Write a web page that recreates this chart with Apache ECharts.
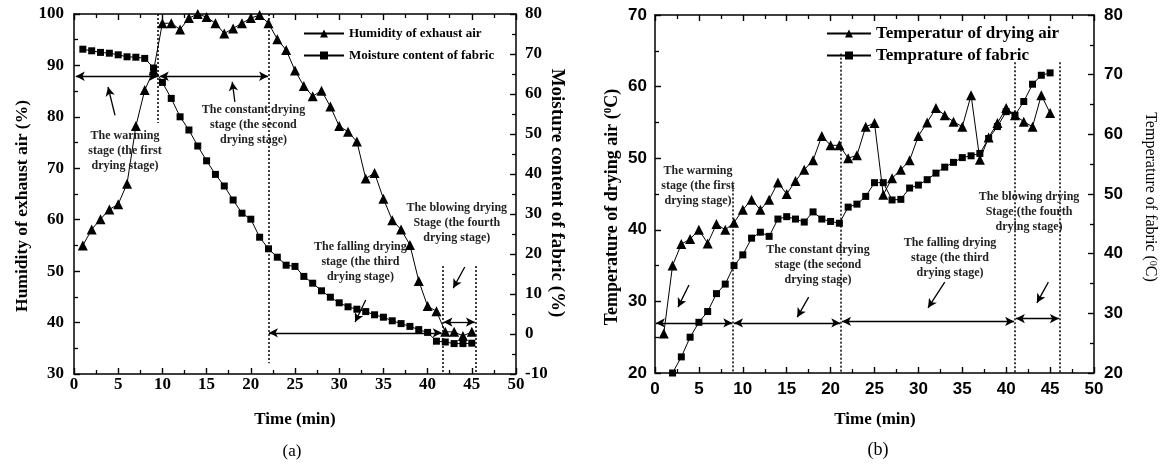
<!DOCTYPE html>
<html><head><meta charset="utf-8">
<script src="https://cdn.jsdelivr.net/npm/echarts@6/dist/echarts.min.js"></script>
<style>html,body{margin:0;padding:0;background:#fff}#c{width:1165px;height:467px}</style>
</head><body><div id="c"></div>
<script>
// ---------- Panel (a) data ----------
const timeA = [1,2,3,4,5,6,7,8,9,10,11,12,13,14,15,16,17,18,19,20,21,22,23,24,25,26,27,28,29,30,31,32,33,34,35,36,37,38,39,40,41,42,43,44,45];
const humidity = [55,58.1,60.1,62,63,67,78.2,85.2,89,98.2,98.2,97,99.2,100,99.4,98.2,96.2,97.2,98.2,99.2,99.8,98.2,95.1,93,89,86,84,85.1,82,78.2,77.1,75.2,68,69.1,64.1,59.9,58.1,55.1,48.1,43.2,42.2,38.2,38.2,37.4,38.2];
const moisture = [71.2,70.8,70.4,70.2,69.8,69.3,69.2,68.9,66.5,62.9,58.9,54.3,51,47,43.3,39.9,37,33.5,30.2,28.7,24.2,21.3,19.2,17.2,16.9,14.4,12.7,10.8,9.2,7.8,6.8,6.2,5.6,4.8,4.2,3.3,2.6,1.9,1.1,0.4,-1.8,-2.0,-2.4,-2.4,-2.3];
// ---------- Panel (b) data ----------
const timeB = [1,2,3,4,5,6,7,8,9,10,11,12,13,14,15,16,17,18,19,20,21,22,23,24,25,26,27,28,29,30,31,32,33,34,35,36,37,38,39,40,41,42,43,44,45];
const airTemp = [25.5,35,38,38.7,40,38.1,40.8,40,41,42.8,44.2,42.8,44.2,46.6,45,46.8,48.4,49.7,53.1,51.8,51.8,50,50.4,54.4,54.9,44.9,47.2,48.4,49.7,53.1,55,57,56,55.1,54.4,58.8,49.8,52.9,54.9,57,56,55.1,54.4,58.8,56.3];
const timeFabric = [2,3,4,5,6,7,8,9,10,11,12,13,14,15,16,17,18,19,20,21,22,23,24,25,26,27,28,29,30,31,32,33,34,35,36,37,38,39,40,41,42,43,44,45];
const fabricTemp = [20,22.7,26,28.5,30.3,33.3,34.9,38,39.8,42.6,43.6,42.9,45.8,46.2,45.8,45.3,47,45.8,45.4,45.1,47.8,48.3,49.6,51.9,51.9,49,49.1,51,51.5,52.4,53.5,54.5,55.3,56.1,56.4,56.8,59.3,61.3,63.8,63.2,65.5,68.4,69.9,70.3];

// ---------- Annotations (data coordinates) ----------
// dotted stage boundaries: [x, yTop, yBottom]
const dottedA = [[9.5,100,78.8],[22,100,32.1],[41.7,51,30],[45.4,51,30]];
const dottedB = [[8.9,46.2,20],[21.2,64.6,20],[41.0,63.4,20],[46.1,63.4,20]];
// double-headed stage arrows: [x1, x2, y]
const spansA = [[0.2,9.5,87.9],[9.7,21.95,87.9],[22.05,41.6,38.0],[41.8,45.35,40.1]];
const spansB = [[0.1,8.8,27.0],[9.0,21.1,27.0],[21.3,40.9,27.2],[41.1,46.0,27.6]];
// pointer arrows: [tailX, tailY, headX, headY]
const pointersA = [[4.64,80.3,3.85,85.8],[18.2,82.9,17.9,86.8],[33.0,44.4,31.8,40.1],[44.2,50.8,42.9,46.7]];
const pointersB = [[3.87,32.3,2.62,29.2],[17.5,30.6,16.2,27.8],[33.0,32.7,31.1,29.1],[44.8,32.7,43.5,29.8]];
// stage labels: [x, y, text]
const labelsA = [
  [5.77,73.3,'The warming\nstage (the first\ndrying stage)'],
  [20.3,78.4,'The constant drying\nstage (the second\ndrying stage)'],
  [32.4,51.75,'The falling drying\nstage (the third\ndrying stage)'],
  [43.3,59.3,'The blowing drying\nStage (the fourth\ndrying stage)']
];
const labelsB = [
  [4.9,46.1,'The warming\nstage (the first\ndrying stage)'],
  [18.56,35.1,'The constant drying\nstage (the second\ndrying stage)'],
  [33.6,36.1,'The falling drying\nstage (the third\ndrying stage)'],
  [42.6,42.5,'The blowing drying\nStage (the fourth\ndrying stage)']
];

const SERIF = "'Liberation Serif','Times New Roman',serif";
const SANS = "'Liberation Sans',Arial,sans-serif";

function pairs(xs, ys){ return xs.map((x,i)=>[x, ys[i]]); }

function axisCommon(labelFont, size, margin, showLabel){
  return {
    axisLine:{show:true, onZero:false, lineStyle:{color:'#000', width:1.5}},
    axisTick:{show:true, inside:true, length:6, lineStyle:{color:'#000', width:1.4}},
    minorTick:{show:true, splitNumber:2, length:4, lineStyle:{color:'#000', width:1.3}},
    axisLabel:{show:showLabel, color:'#000', fontFamily:labelFont, fontWeight:'bold', fontSize:size, margin:margin},
    splitLine:{show:false}, minorSplitLine:{show:false}
  };
}
function xAx(grid, pos, font, size, margin, show){
  return Object.assign({type:'value', gridIndex:grid, position:pos, min:0, max:50, interval:5}, axisCommon(font, size, margin, show));
}
function yAx(grid, pos, min, max, font, size, margin){
  return Object.assign({type:'value', gridIndex:grid, position:pos, min:min, max:max, interval:10}, axisCommon(font, size, margin, true));
}

function markLines(dotted, spans, pointers){
  const data = [];
  dotted.forEach(d=>data.push([
    {coord:[d[0],d[1]], symbol:'none', lineStyle:{type:[2,2], width:1.5, color:'#000'}},
    {coord:[d[0],d[2]], symbol:'none'}
  ]));
  spans.forEach(s=>data.push([
    {coord:[s[0],s[2]], symbol:'arrow'},
    {coord:[s[1],s[2]], symbol:'arrow'}
  ]));
  pointers.forEach(p=>data.push([
    {coord:[p[0],p[1]], symbol:'none'},
    {coord:[p[2],p[3]], symbol:'arrow'}
  ]));
  return {silent:true, animation:false, symbol:['none','none'], symbolSize:[7,9], precision:3,
    label:{show:false}, emphasis:{disabled:true},
    lineStyle:{color:'#000', width:1.3, type:'solid'}, data:data};
}
function markTexts(labels){
  return {silent:true, animation:false, symbol:'rect', symbolSize:1, itemStyle:{color:'rgba(0,0,0,0)'},
    emphasis:{disabled:true},
    label:{show:true, position:'inside', color:'#222', fontFamily:SERIF, fontWeight:'bold', fontSize:12, lineHeight:15, align:'center', verticalAlign:'middle'},
    data: labels.map(l=>({coord:[l[0],l[1]], value:0, label:{formatter:l[2]}}))};
}

const chart = echarts.init(document.getElementById('c'), null, {renderer:'canvas'});
const option = {
  animation:false,
  backgroundColor:'#fff',
  grid:[
    {left:74, top:14, width:442, height:360},
    {left:655, top:15, width:439, height:358}
  ],
  xAxis:[
    xAx(0,'bottom',SERIF,17,2,true),
    xAx(0,'top',SERIF,17,3,false),
    xAx(1,'bottom',SANS,17,8,true),
    xAx(1,'top',SANS,17,3,false)
  ],
  yAxis:[
    yAx(0,'left',30,100,SERIF,17,10),
    yAx(0,'right',-10,80,SERIF,17,9),
    yAx(1,'left',20,70,SANS,17,8),
    yAx(1,'right',20,80,SANS,17,10)
  ],
  legend:[
    {data:['Humidity of exhaust air','Moisture content of fabric'], orient:'vertical', left:303, top:27, padding:0,
     itemWidth:40, itemHeight:10, itemGap:9, selectedMode:false,
     textStyle:{fontFamily:SERIF, fontWeight:'bold', fontSize:13, color:'#000'}},
    {data:['Temperatur of drying air','Temprature of fabric'], orient:'vertical', left:826, top:25, padding:0,
     itemWidth:44, itemHeight:10, itemGap:5, selectedMode:false,
     textStyle:{fontFamily:SERIF, fontWeight:'bold', fontSize:17, color:'#000'}}
  ],
  series:[
    {name:'Humidity of exhaust air', type:'line', xAxisIndex:0, yAxisIndex:0, data:pairs(timeA, humidity),
     symbol:'triangle', symbolSize:10, itemStyle:{color:'#000'}, lineStyle:{color:'#000', width:1}, z:3,
     markLine:markLines(dottedA, spansA, pointersA), markPoint:markTexts(labelsA)},
    {name:'Moisture content of fabric', type:'line', xAxisIndex:0, yAxisIndex:1, data:pairs(timeA, moisture),
     symbol:'rect', symbolSize:7, itemStyle:{color:'#000'}, lineStyle:{color:'#000', width:1}, z:3},
    {name:'Temperatur of drying air', type:'line', xAxisIndex:2, yAxisIndex:2, data:pairs(timeB, airTemp),
     symbol:'triangle', symbolSize:10, itemStyle:{color:'#000'}, lineStyle:{color:'#000', width:1}, z:3,
     markLine:markLines(dottedB, spansB, pointersB), markPoint:markTexts(labelsB)},
    {name:'Temprature of fabric', type:'line', xAxisIndex:2, yAxisIndex:3, data:pairs(timeFabric, fabricTemp),
     symbol:'rect', symbolSize:7, itemStyle:{color:'#000'}, lineStyle:{color:'#000', width:1}, z:3}
  ],
  graphic:[
    {type:'text', x:22, y:206, rotation:Math.PI/2,
     style:{text:'Humidity of exhaust air (%)', font:'bold 17.5px '+SERIF, fill:'#000', align:'center', verticalAlign:'middle', textAlign:'center', textVerticalAlign:'middle'}},
    {type:'text', x:557, y:193, rotation:-Math.PI/2,
     style:{text:'Moisture content of fabric (%)', font:'bold 19px '+SERIF, fill:'#000', align:'center', verticalAlign:'middle', textAlign:'center', textVerticalAlign:'middle'}},
    {type:'text', x:295, y:420,
     style:{text:'Time (min)', font:'bold 17px '+SERIF, fill:'#000', align:'center', verticalAlign:'middle', textAlign:'center', textVerticalAlign:'middle'}},
    {type:'text', x:292, y:452,
     style:{text:'(a)', font:'17px '+SERIF, fill:'#000', align:'center', verticalAlign:'middle', textAlign:'center', textVerticalAlign:'middle'}},
    {type:'text', x:612, y:207, rotation:Math.PI/2,
     style:{text:'{a|Temperature of drying air (}{s|0}{a|C)}', fill:'#000', align:'center', verticalAlign:'middle', textAlign:'center', textVerticalAlign:'middle',
       rich:{a:{font:'bold 18px '+SERIF, fill:'#000'}, s:{font:'bold 11px '+SERIF, fill:'#000', verticalAlign:'top'}}}},
    {type:'text', x:1150, y:197, rotation:-Math.PI/2,
     style:{text:'{a|Temperature of fabric (}{s|0}{a|C)}', fill:'#000', align:'center', verticalAlign:'middle', textAlign:'center', textVerticalAlign:'middle',
       rich:{a:{font:'16px '+SERIF, fill:'#000'}, s:{font:'10px '+SERIF, fill:'#000', verticalAlign:'top'}}}},
    {type:'text', x:875, y:420,
     style:{text:'Time (min)', font:'bold 17px '+SERIF, fill:'#000', align:'center', verticalAlign:'middle', textAlign:'center', textVerticalAlign:'middle'}},
    {type:'text', x:878, y:450,
     style:{text:'(b)', font:'18px '+SERIF, fill:'#000', align:'center', verticalAlign:'middle', textAlign:'center', textVerticalAlign:'middle'}}
  ]
};
chart.setOption(option);
</script>
</body></html>
